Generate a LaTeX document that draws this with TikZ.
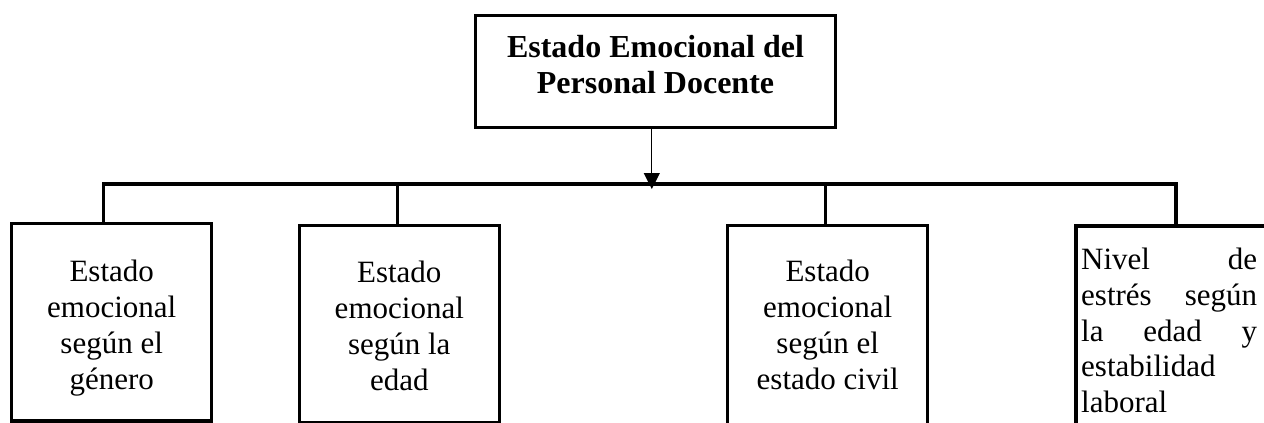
\documentclass[tikz,border=0pt]{standalone}
\usepackage{fontspec}
\setmainfont{Liberation Serif}
\usetikzlibrary{arrows.meta}
\begin{document}
\begin{tikzpicture}[x=1pt,y=-1pt,
  box/.style n args={2}{draw, line width=3.3pt, inner sep=0pt, outer sep=0pt,
    minimum width=#1pt, minimum height=#2pt},
  conn/.style={line width=3.3pt},
  arr/.style={line width=1.3pt, -{Triangle[length=16pt,width=16pt]}},
  lbl/.style={inner sep=0pt, anchor=north, align=center,
    font=\fontsize{31}{36}\selectfont},
  lblleft/.style={inner sep=0pt, anchor=north west, align=left,
    font=\fontsize{31}{35.7}\selectfont},
  ttl/.style={inner sep=0pt, anchor=north, align=center,
    font=\fontsize{32}{36}\selectfont\bfseries}]
\clip (0,0) rectangle (1264,423);
\fill[white] (0,0) rectangle (1264,423);
% boxes
\node[box={359.6}{111.6}] (b0) at (655.5,71.5) {};
\node[box={200}{197.2}] (b1) at (111.7,322.4) {};
\node[box={200}{197.3}] (b2) at (399.3,324.35) {};
\node[box={200}{254.3}] (b3) at (827.7,352.85) {};
\node[box={244}{254}] (b4) at (1198,353) {};
% texts
\node[ttl] (t0) at (655.5,{57-25.2}) {\strut Estado Emocional del\\Personal Docente};
\node[lbl] (t1) at (111.7,{281-25.2}) {\strut Estado\\emocional\\según el\\género};
\node[lbl] (t2) at (399.3,{282-25.2}) {\strut Estado\\emocional\\según la\\edad};
\node[lbl] (t3) at (827.7,{281-25.2}) {\strut Estado\\emocional\\según el\\estado civil};
\node[lblleft] (t4) at (1081,{269.5-25}) {\strut\hbox to 176pt{Nivel\hfill de}\\
  \hbox to 176pt{estrés\hfill según}\\
  \hbox to 176pt{la\hfill edad\hfill y}\\
  estabilidad\\laboral};
% connectors
\coordinate (j1) at (103.3,184);
\coordinate (j2) at (397.7,184);
\coordinate (j3) at (825.7,184);
\coordinate (j4) at (1176,184);
\coordinate (atip) at (651.8,189);
\draw[conn, line cap=rect] (j1) -- (j4);
\draw[conn] (j1) -- (j1 |- b1.north);
\draw[conn] (j2) -- (j2 |- b2.north);
\draw[conn] (j3) -- (j3 |- b3.north);
\draw[conn] (j4) -- (j4 |- b4.north);
\draw[arr] (atip |- b0.south) -- (atip);
\end{tikzpicture}
\end{document}
